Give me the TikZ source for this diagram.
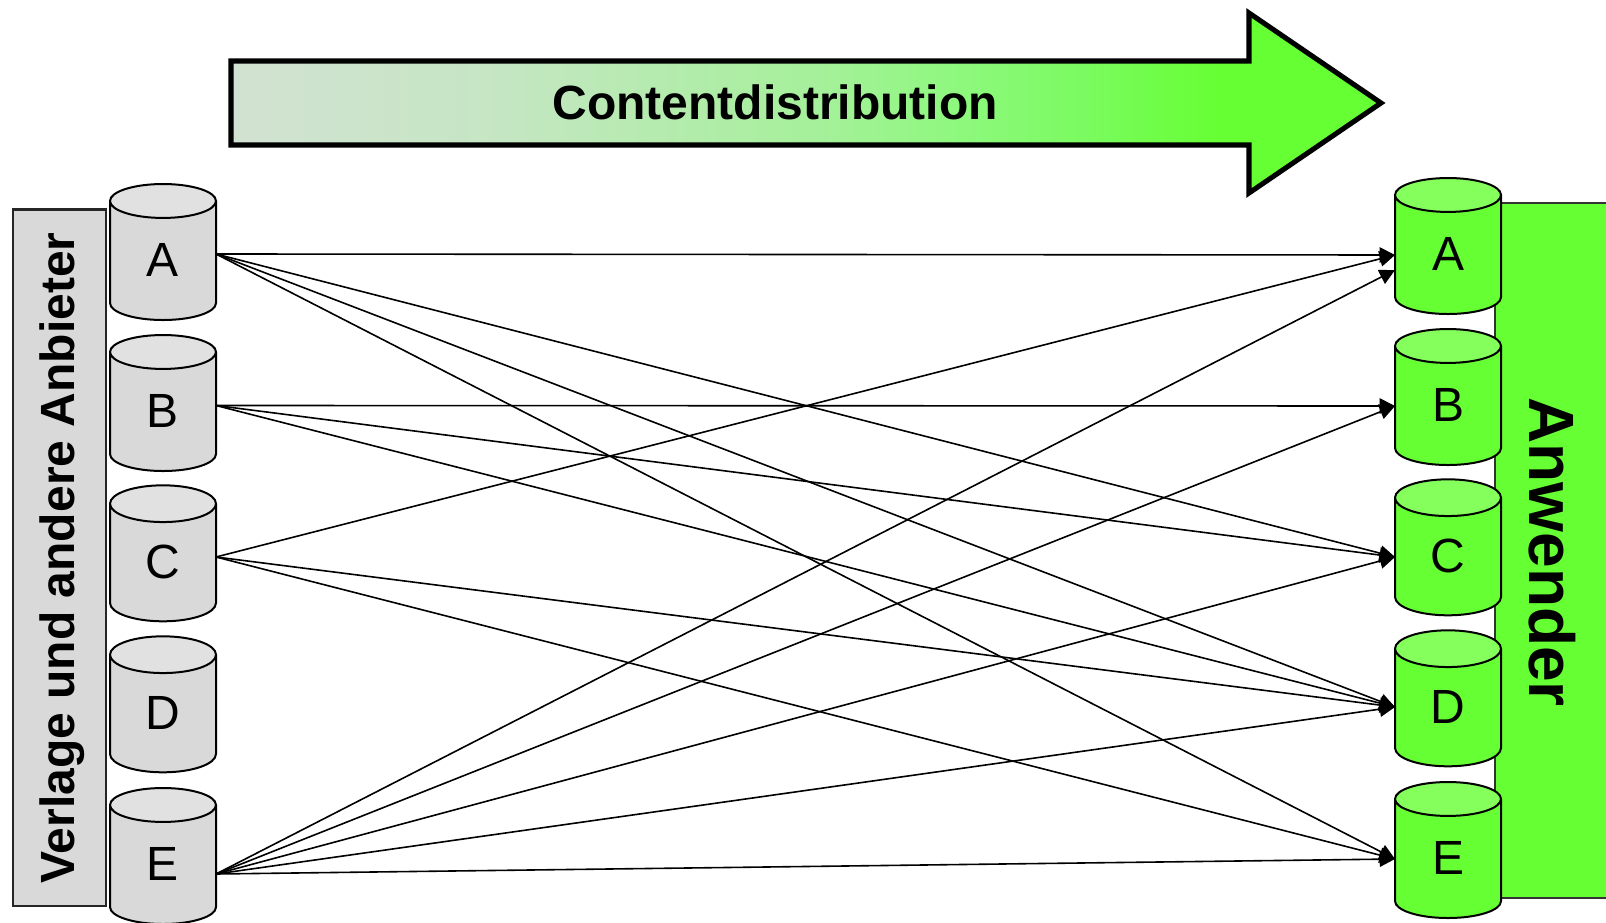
\documentclass[tikz,border=0pt]{standalone}
\usepackage{fontspec}
\setmainfont{Liberation Sans}
\usetikzlibrary{arrows.meta,shapes.geometric}
\definecolor{cgray}{HTML}{D9D9D9}
\definecolor{cgraytop}{HTML}{E1E1E1}
\definecolor{cgreen}{HTML}{66FF33}
\definecolor{cgreentop}{HTML}{85FF5C}
\definecolor{sa}{HTML}{D2E2D2}
\definecolor{sb}{HTML}{C5E6C3}
\definecolor{sc}{HTML}{A5F09A}
\definecolor{sd}{HTML}{8FF87F}
\definecolor{se}{HTML}{7AFB5F}
\pgfdeclarehorizontalshading{flowshade}{100bp}{
  color(0bp)=(sa);
  color(25bp)=(sa);
  color(36.7bp)=(sb);
  color(50.6bp)=(sc);
  color(56.4bp)=(sd);
  color(62.2bp)=(se);
  color(68bp)=(cgreen);
  color(100bp)=(cgreen)}
\newcommand\canlabel[2][1.5pt]{\raisebox{#1}[25.8pt][0pt]{#2}}
\tikzset{
  x=0.75pt,y=-0.75pt,
  can/.style={shape=cylinder,shape border rotate=90,aspect=1.06,draw=black,line width=1.5pt,
    minimum width=79.5pt,minimum height=102pt,inner sep=0pt,outer sep=0pt,
    cylinder uses custom fill,font=\fontsize{36}{36}\selectfont,text=black},
  sourcecan/.style={can,cylinder body fill=cgray,cylinder end fill=cgraytop},
  usercan/.style={can,cylinder body fill=cgreen,cylinder end fill=cgreentop},
  flow/.style={line width=1.2pt,draw=black,-{Triangle[length=11.5pt,width=11.5pt]},shorten <=0pt},
  bigarrow/.style={line width=3.8pt,draw=black,miter limit=10},
  sidebox/.style={draw=black!85,line width=1.6pt},
  heading/.style={font=\bfseries\fontsize{36}{36}\selectfont,text=black,inner sep=0pt}
}
\begin{document}
\begin{tikzpicture}
\useasboundingbox (0,0) rectangle (1606,923);
\fill[white] (0,0) rectangle (1606,923);
% big arrow
\path[bigarrow,draw,shading=flowshade]
  (231,61) -- (1249,61) -- (1249,13) -- (1381,103) -- (1249,193) -- (1249,145) -- (231,145) -- cycle;
\node[heading] (title) at (775,102) {Contentdistribution};
% side boxes
\node[sidebox,fill=cgray,minimum width=69.5pt,minimum height=522pt,inner sep=0pt,anchor=north west] (src) at (12,208.5) {};
\node[sidebox,draw=black!80,line width=1.2pt,fill=cgreen,minimum width=90pt,minimum height=521pt,inner sep=0pt,anchor=north west] (usr) at (1494,202.5) {};
\node[heading,rotate=90] (srclabel) at (62,558) {Verlage und andere Anbieter};
\node[heading,rotate=-90,font=\bfseries\fontsize{48}{48}\selectfont] (usrlabel) at (1552,552) {Anwender};
% source cans
\node[sourcecan] (la) at (163,261) {\canlabel[1pt]{A}};
\node[sourcecan] (lb) at (163,412) {\canlabel[1pt]{B}};
\node[sourcecan] (lc) at (163,563) {\canlabel[1pt]{C}};
\node[sourcecan] (ld) at (163,714) {\canlabel[1pt]{D}};
\node[sourcecan] (le) at (163,865) {\canlabel[1pt]{E}};
% user cans
\node[usercan] (ra) at (1448,255) {\canlabel{A}};
\node[usercan] (rb) at (1448,406) {\canlabel{B}};
\node[usercan] (rc) at (1448,557) {\canlabel{C}};
\node[usercan] (rd) at (1448,708) {\canlabel{D}};
\node[usercan] (re) at (1448,859) {\canlabel{E}};
% ports
\coordinate (pla) at (216,254);
\coordinate (plb) at (216,405.5);
\coordinate (plc) at (216,557);
\coordinate (ple) at (216,874);
\coordinate (pra) at (1395,255);
\coordinate (prax) at (1395,270);
\coordinate (prb) at (1395,406);
\coordinate (prc) at (1395,557);
\coordinate (prd) at (1395,707);
\coordinate (pre) at (1395,859);
% connectors
\foreach \s/\t in {pla/pra,pla/prc,pla/prd,pla/pre,plb/prb,plb/prc,plb/prd,plc/pra,plc/prd,plc/pre,ple/prax,ple/prb,ple/prc,ple/prd,ple/pre}
  \draw[flow] (\s) -- (\t);
\end{tikzpicture}
\end{document}
